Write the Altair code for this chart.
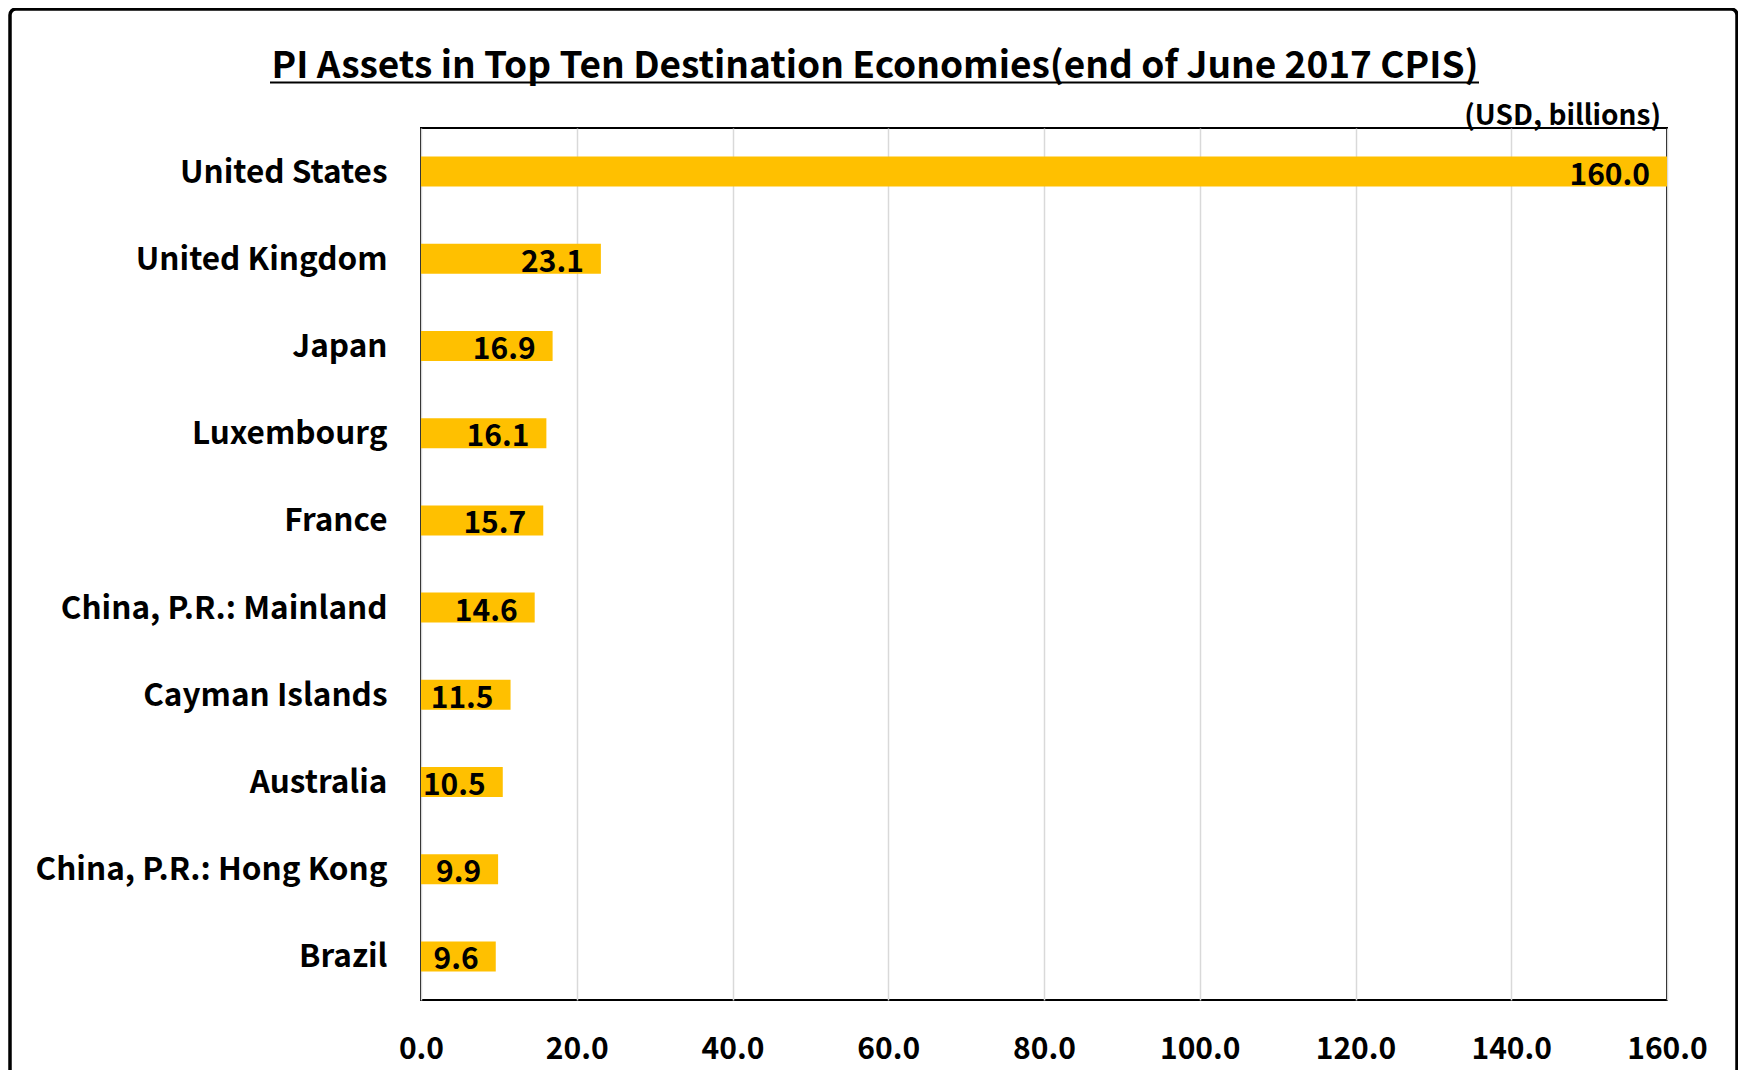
import altair as alt
import pandas as pd

countries = ["United States", "United Kingdom", "Japan", "Luxembourg", "France",
             "China, P.R.: Mainland", "Cayman Islands", "Australia",
             "China, P.R.: Hong Kong", "Brazil"]
values = [160.0, 23.1, 16.9, 16.1, 15.7, 14.6, 11.5, 10.5, 9.9, 9.6]
x_ticks = [0, 20, 40, 60, 80, 100, 120, 140, 160]
title_text = "PI Assets in Top Ten Destination Economies(end of June 2017 CPIS)"
unit_text = "(USD, billions)"

FONT = "Noto Sans CJK KR"
W, H = 1246, 872

df = pd.DataFrame({"country": countries, "value": values})
one = pd.DataFrame({"t": [title_text], "u": [unit_text]})

xs = alt.X("value:Q", scale=alt.Scale(domain=[0, 160], nice=False),
           axis=alt.Axis(values=x_ticks, format=".1f", title=None, grid=True,
                         gridColor="#d9d9d9", gridWidth=1.5, ticks=False,
                         domain=False, labelFont=FONT, labelFontSize=30,
                         labelFontWeight="bold", labelColor="black",
                         labelBaseline="alphabetic", labelFlush=False,
                         labelPadding=58))
ys = alt.Y("country:N", sort=countries,
           scale=alt.Scale(paddingInner=0.656, paddingOuter=0.328),
           axis=alt.Axis(title=None, ticks=False, domain=False, labelFont=FONT,
                         labelFontSize=31.5, labelFontWeight="bold",
                         labelColor="black", labelPadding=34, labelLimit=0,
                         labelOffset=2))

bars = alt.Chart(df).mark_bar(color="#FFC000").encode(x=xs, y=ys)
labels = alt.Chart(df).mark_text(align="right", baseline="alphabetic", dx=-17, dy=13,
                                 font=FONT, fontSize=30, fontWeight="bold",
                                 color="black").encode(
    x="value:Q", y=alt.Y("country:N", sort=countries), text=alt.Text("value:Q", format=".1f"))

frame = alt.Chart(one).mark_rect(filled=False, stroke="black", strokeWidth=3.5,
                                 cornerRadius=6, clip=False).encode(
    x=alt.value(-411), x2=alt.value(1316), y=alt.value(-119), y2=alt.value(1000))
title = alt.Chart(one).mark_text(align="center", baseline="alphabetic", font=FONT,
                                 fontSize=37, fontWeight="bold", color="black").encode(
    x=alt.value(454), y=alt.value(-50), text="t:N")
underline = alt.Chart(one).mark_rule(color="black", strokeWidth=2).encode(
    x=alt.value(-151), x2=alt.value(1058), y=alt.value(-45.5))
unit = alt.Chart(one).mark_text(align="right", baseline="alphabetic", font=FONT,
                                fontSize=28, fontWeight="bold", color="black").encode(
    x=alt.value(1240), y=alt.value(-3), text="u:N")

chart = alt.layer(frame, bars, labels, title, underline, unit).properties(
    width=W, height=H,
    autosize=alt.AutoSizeParams(type="none"),
    padding={"left": 413, "top": 120, "right": 71, "bottom": 70},
    background="white",
).configure_view(stroke="black", strokeWidth=2)

chart.save("out.html", embed_options={"renderer": "svg", "actions": False})
